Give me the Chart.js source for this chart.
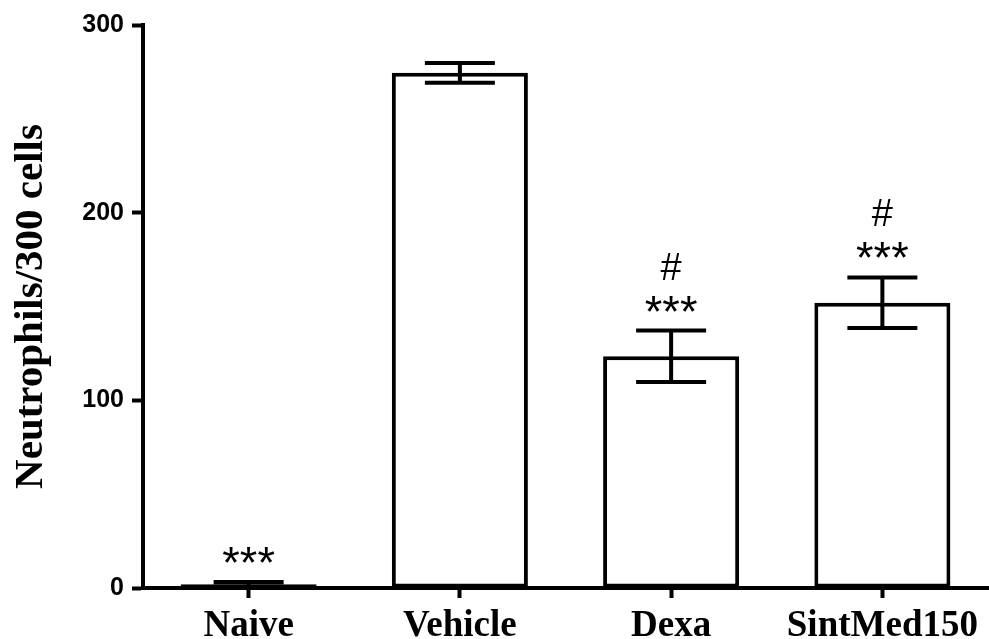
<!DOCTYPE html>
<html>
<head>
<meta charset="utf-8">
<script src="https://cdn.jsdelivr.net/npm/chart.js@4.4.1/dist/chart.umd.min.js"></script>
<style>
  html, body { margin: 0; padding: 0; background: #fff; }
  #wrap { width: 989px; height: 639px; }
</style>
</head>
<body>
<div id="wrap"><canvas id="chart"></canvas></div>
<script>
// ================= DATA =================
const groups = ["Naive", "Vehicle", "Dexa", "SintMed150"];
const means = [2, 274.5, 123.5, 152];
const sems = [1.2, 5.3, 13.7, 13.5];
const starMarks = ["***", "", "***", "***"];
const hashMarks = ["", "", "#", "#"];
const yTicks = [0, 100, 200, 300];

// ================= PLUGINS =================
// error bars (mean +/- SEM) drawn on top of the bars
const errorBars = {
  id: "errorBars",
  afterDatasetsDraw(chart) {
    const ctx = chart.ctx;
    const y = chart.scales.y;
    const meta = chart.getDatasetMeta(0);
    ctx.save();
    ctx.strokeStyle = "#000";
    ctx.lineWidth = 4;
    meta.data.forEach((bar, i) => {
      const top = y.getPixelForValue(means[i] + sems[i]);
      const bottom = y.getPixelForValue(Math.max(0, means[i] - sems[i]));
      const half = 35;
      ctx.beginPath();
      ctx.moveTo(bar.x, top);
      ctx.lineTo(bar.x, bottom);
      ctx.moveTo(bar.x - half, top);
      ctx.lineTo(bar.x + half, top);
      ctx.moveTo(bar.x - half, bottom);
      ctx.lineTo(bar.x + half, bottom);
      ctx.stroke();
    });
    ctx.restore();
  }
};

// significance marks above the error bars
const sigMarks = {
  id: "sigMarks",
  afterDatasetsDraw(chart) {
    const ctx = chart.ctx;
    const y = chart.scales.y;
    const meta = chart.getDatasetMeta(0);
    ctx.save();
    ctx.fillStyle = "#000";
    ctx.textAlign = "center";
    ctx.textBaseline = "alphabetic";
    meta.data.forEach((bar, i) => {
      const top = y.getPixelForValue(means[i] + sems[i]);
      if (starMarks[i]) {
        ctx.font = "45px 'Liberation Sans', Arial, sans-serif";
        ctx.fillText(starMarks[i], bar.x, top - 4);
      }
      if (hashMarks[i]) {
        ctx.font = "38px 'Liberation Sans', Arial, sans-serif";
        ctx.fillText(hashMarks[i], bar.x, top - 51);
      }
    });
    ctx.restore();
  }
};

// ================= CHART =================
new Chart(document.getElementById("chart"), {
  type: "bar",
  data: {
    labels: groups,
    datasets: [{
      data: means,
      backgroundColor: "#fff",
      borderColor: "#000",
      borderWidth: 4,
      borderSkipped: false,
      categoryPercentage: 1,
      barPercentage: 0.644
    }]
  },
  options: {
    responsive: true,
    maintainAspectRatio: false,
    animation: false,
    layout: { padding: { top: 25, right: 1, left: 0, bottom: 0 } },
    plugins: {
      legend: { display: false },
      tooltip: { enabled: false }
    },
    scales: {
      x: {
        afterFit: s => { s.height = 51; },
        border: { color: "#000", width: 4 },
        grid: {
          offset: false,
          drawOnChartArea: false,
          drawTicks: true,
          tickLength: 10,
          tickWidth: 4,
          tickColor: "#000"
        },
        ticks: {
          color: "#000",
          padding: 6,
          maxRotation: 0,
          font: { family: "'Liberation Serif', 'Times New Roman', serif", size: 37, weight: "bold" }
        }
      },
      y: {
        min: 0,
        max: 300,
        afterFit: s => { s.width = 143; },
        afterBuildTicks: s => { s.ticks = yTicks.map(v => ({ value: v })); },
        border: { color: "#000", width: 4 },
        grid: {
          drawOnChartArea: false,
          drawTicks: true,
          tickLength: 11,
          tickWidth: 4,
          tickColor: "#000"
        },
        ticks: {
          color: "#000",
          padding: 8,
          font: { family: "'Liberation Sans', Arial, sans-serif", size: 25, weight: "bold" }
        },
        title: {
          display: true,
          text: "Neutrophils/300 cells",
          color: "#000",
          padding: { top: 7, bottom: 0 },
          font: { family: "'Liberation Serif', 'Times New Roman', serif", size: 41, weight: "bold" }
        }
      }
    }
  },
  plugins: [errorBars, sigMarks]
});
</script>
</body>
</html>
